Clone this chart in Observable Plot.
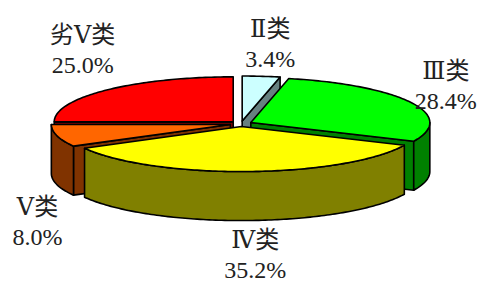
<!DOCTYPE html>
<html>
<head>
<meta charset="utf-8">
<script src="https://cdn.jsdelivr.net/npm/d3@7"></script>
<script src="https://cdn.jsdelivr.net/npm/@observablehq/plot@0.6"></script>
<style>
  html, body { margin: 0; padding: 0; background: #fff; }
  #chart svg { display: block; }
</style>
</head>
<body>
<div id="chart"></div>
<script>
// ---- data ----
const categories = ["Ⅱ类", "Ⅲ类", "Ⅳ类", "Ⅴ类", "劣Ⅴ类"];
const values = [3.4, 28.4, 35.2, 8.0, 25.0];
const valueLabels = ["3.4%", "28.4%", "35.2%", "8.0%", "25.0%"];
const topColors = ["#CCFFFF", "#00FF00", "#FFFF00", "#FF6600", "#FF0000"];
const sideColors = ["#668080", "#008000", "#808000", "#803300", "#800000"];

// ---- layout ----
const W = 478, H = 282;
const R = 179;                 // horizontal radius in px
const cxPx = 240.5, cyPx = 123.3;
const tilt = 45 / 179;         // vertical squash of the top ellipse
const depth = 49 / 179;        // thickness of the pie
const explode = 11 / 179;      // explosion distance
// label nudges (px) relative to each slice's outer mid point
const labelDx = [9, 35, 7, -19.5, -24];
const labelDy = [-34, -17.5, 81.5, 84.5, -41.5];

const rad = d => d * Math.PI / 180;
const total = d3.sum(values);
let acc = 0;
const slices = values.map((v, i) => {
  const a = acc / total * 360;
  acc += v;
  const b = acc / total * 360;
  const m = (a + b) / 2;
  return {i, a, b, m, ox: explode * Math.sin(rad(m)), oy: explode * tilt * Math.cos(rad(m))};
});

function pt(s, th, z) {
  return {x: s.ox + Math.sin(rad(th)), y: s.oy + tilt * Math.cos(rad(th)) - z * depth};
}
function ctr(s, z) { return {x: s.ox, y: s.oy - z * depth}; }
function arc(s, from, to, z) {
  const n = Math.max(2, Math.ceil(Math.abs(to - from)));
  return d3.range(n + 1).map(k => pt(s, from + (to - from) * k / n, z));
}

const faces = [];
const order = slices.slice().sort((p, q) => Math.cos(rad(q.m)) - Math.cos(rad(p.m)));
for (const s of order) {
  const side = sideColors[s.i], top = topColors[s.i];
  if (Math.sin(rad(s.a)) < -1e-6) {
    const pts = [ctr(s, 0), pt(s, s.a, 0), pt(s, s.a, 1), ctr(s, 1)];
    faces.push({pts: [...pts, pts[0]], fill: side});
  }
  if (Math.sin(rad(s.b)) > 1e-6) {
    const pts = [ctr(s, 0), pt(s, s.b, 0), pt(s, s.b, 1), ctr(s, 1)];
    faces.push({pts: [...pts, pts[0]], fill: side});
  }
  const lo = Math.max(s.a, 90), hi = Math.min(s.b, 270);
  if (hi > lo) {
    const pts = [...arc(s, lo, hi, 0), ...arc(s, hi, lo, 1)];
    faces.push({pts: [...pts, pts[0]], fill: side});
  }
  const tp = [ctr(s, 0), ...arc(s, s.a, s.b, 0)];
  faces.push({pts: [...tp, tp[0]], fill: top});
}

const font = "'Liberation Serif', 'DejaVu Serif', 'Noto Sans CJK SC', serif";
const labelMarks = slices.map(s => {
  const p = pt(s, s.m, 0);
  return Plot.text([{x: p.x, y: p.y, t: categories[s.i] + "\n" + valueLabels[s.i]}], {
    x: "x", y: "y", text: "t",
    dx: labelDx[s.i], dy: labelDy[s.i],
    fontSize: 24, fontFamily: font, fill: "#222",
    lineHeight: 1.25, textAnchor: "middle", lineAnchor: "middle"
  });
});

const chart = Plot.plot({
  width: W, height: H,
  margin: 0,
  x: {domain: [(0 - cxPx) / R, (W - cxPx) / R], range: [0, W], axis: null},
  y: {domain: [(cyPx - H) / R, cyPx / R], range: [H, 0], axis: null},
  style: {background: "#fff", overflow: "visible"},
  marks: [
    ...faces.map(f => Plot.line(f.pts, {
      x: "x", y: "y", fill: f.fill, stroke: "#000",
      strokeWidth: 1.6, strokeLinejoin: "round", curve: "linear"
    })),
    ...labelMarks
  ]
});
document.getElementById("chart").appendChild(chart);
</script>
</body>
</html>
